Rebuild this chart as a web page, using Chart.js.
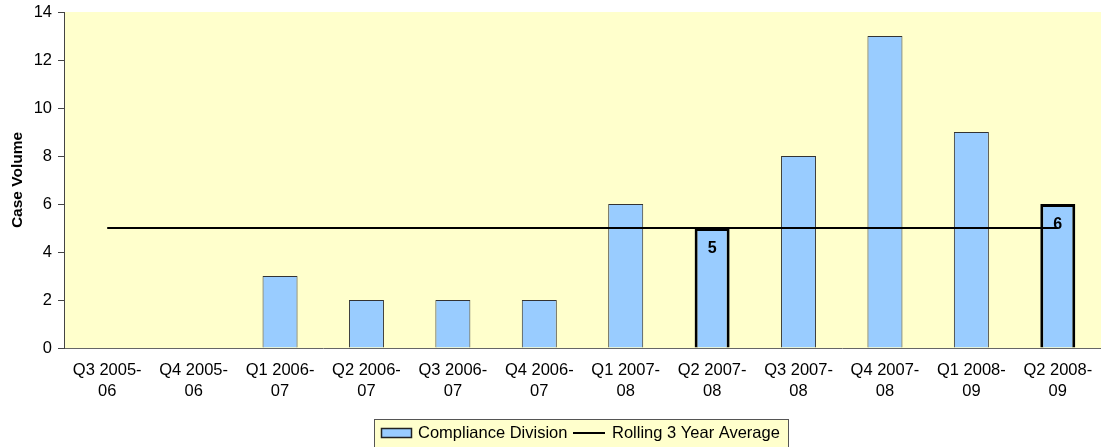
<!DOCTYPE html>
<html>
<head>
<meta charset="utf-8">
<script src="https://cdn.jsdelivr.net/npm/chart.js@4/dist/chart.umd.min.js"></script>
<style>
html,body{margin:0;padding:0;background:#fff;}
#wrap{width:1101px;height:447px;}
</style>
</head>
<body>
<div id="wrap"><canvas id="c" width="1101" height="447"></canvas></div>
<script>
const categories = [
  ["Q3 2005-","06"],["Q4 2005-","06"],["Q1 2006-","07"],["Q2 2006-","07"],
  ["Q3 2006-","07"],["Q4 2006-","07"],["Q1 2007-","08"],["Q2 2007-","08"],
  ["Q3 2007-","08"],["Q4 2007-","08"],["Q1 2008-","09"],["Q2 2008-","09"]
];
const complianceDivision = [0, 0, 3, 2, 2, 2, 6, 5, 8, 13, 9, 6];
const rollingAverage = [5, 5, 5, 5, 5, 5, 5, 5, 5, 5, 5, 5];
const highlighted = [false, false, false, false, false, false, false, true, false, false, false, true];
const yTicks = [0, 2, 4, 6, 8, 10, 12, 14];

const FONT = "'Liberation Sans', Arial, sans-serif";

const bgPlugin = {
  id: 'plotBg',
  beforeDraw(chart) {
    const {ctx, chartArea: a} = chart;
    ctx.save();
    ctx.fillStyle = '#FFFFCC';
    ctx.fillRect(a.left, a.top, a.right - a.left, a.bottom - a.top);
    ctx.restore();
  }
};

const labelPlugin = {
  id: 'barLabels',
  afterDatasetsDraw(chart) {
    const ctx = chart.ctx;
    const meta = chart.getDatasetMeta(0);
    ctx.save();
    ctx.font = "bold 16px " + FONT;
    ctx.fillStyle = '#000';
    ctx.textAlign = 'center';
    ctx.textBaseline = 'middle';
    meta.data.forEach((bar, i) => {
      if (highlighted[i]) {
        ctx.fillText(String(complianceDivision[i]), bar.x, bar.y + 21);
      }
    });
    ctx.restore();
  }
};

const legendPlugin = {
  id: 'boxLegend',
  afterDraw(chart) {
    const ctx = chart.ctx;
    ctx.save();
    const x0 = 374.5, y0 = 419.5, w = 414, h = 30;
    ctx.fillStyle = '#FFFFCC';
    ctx.fillRect(x0, y0, w, h);
    ctx.strokeStyle = '#555';
    ctx.lineWidth = 1;
    ctx.strokeRect(x0, y0, w, h);
    ctx.fillStyle = '#99CCFF';
    ctx.fillRect(381, 428, 31, 10);
    ctx.strokeStyle = '#222';
    ctx.lineWidth = 1.5;
    ctx.strokeRect(381.5, 428.5, 30, 9);
    ctx.font = "16.5px " + FONT;
    ctx.fillStyle = '#000';
    ctx.textBaseline = 'middle';
    ctx.textAlign = 'left';
    ctx.fillText(chart.data.datasets[0].label, 418, 433);
    ctx.strokeStyle = '#000';
    ctx.lineWidth = 2;
    ctx.beginPath();
    ctx.moveTo(573, 433);
    ctx.lineTo(605, 433);
    ctx.stroke();
    ctx.fillText(chart.data.datasets[1].label, 612, 433);
    ctx.restore();
  }
};

new Chart(document.getElementById('c'), {
  data: {
    labels: categories,
    datasets: [
      {
        type: 'bar',
        label: 'Compliance Division',
        data: complianceDivision,
        backgroundColor: '#99CCFF',
        borderColor: highlighted.map(h => h ? '#000' : '#333'),
        borderWidth: highlighted.map(h => h ? 3 : 1),
        categoryPercentage: 1.0,
        barPercentage: 0.405,
        order: 1
      },
      {
        type: 'line',
        label: 'Rolling 3 Year Average',
        data: rollingAverage,
        borderColor: '#000',
        borderWidth: 2,
        pointRadius: 0,
        fill: false,
        tension: 0,
        order: 0
      }
    ]
  },
  options: {
    responsive: false,
    animation: false,
    layout: { padding: { top: 12, right: 0, bottom: 0, left: 0 } },
    plugins: {
      legend: { display: false },
      tooltip: { enabled: false }
    },
    scales: {
      x: {
        offset: true,
        grid: { display: true, drawOnChartArea: false, drawTicks: false, color: '#555' },
        border: { display: true, color: '#666', width: 1 },
        ticks: {
          color: '#000',
          font: { family: FONT, size: 16.5, lineHeight: 1.27 },
          padding: 12,
          maxRotation: 0,
          autoSkip: false
        },
        afterFit(s) { s.height = 99; s.paddingLeft = 0; s.paddingRight = 0; }
      },
      y: {
        min: 0,
        max: 14,
        afterBuildTicks(s) { s.ticks = yTicks.map(v => ({ value: v })); },
        grid: { display: true, drawOnChartArea: false, drawTicks: true, tickLength: 6, color: '#444' },
        border: { display: true, color: '#444', width: 1 },
        ticks: {
          color: '#000',
          font: { family: FONT, size: 16.5 },
          padding: 6
        },
        title: {
          display: true,
          text: 'Case Volume',
          color: '#000',
          font: { family: FONT, size: 15.5, weight: 'bold' },
          padding: { top: 8, bottom: 0 }
        },
        afterFit(s) { s.width = 64; s.paddingTop = 0; s.paddingBottom = 0; }
      }
    }
  },
  plugins: [bgPlugin, labelPlugin, legendPlugin]
});
</script>
</body>
</html>
